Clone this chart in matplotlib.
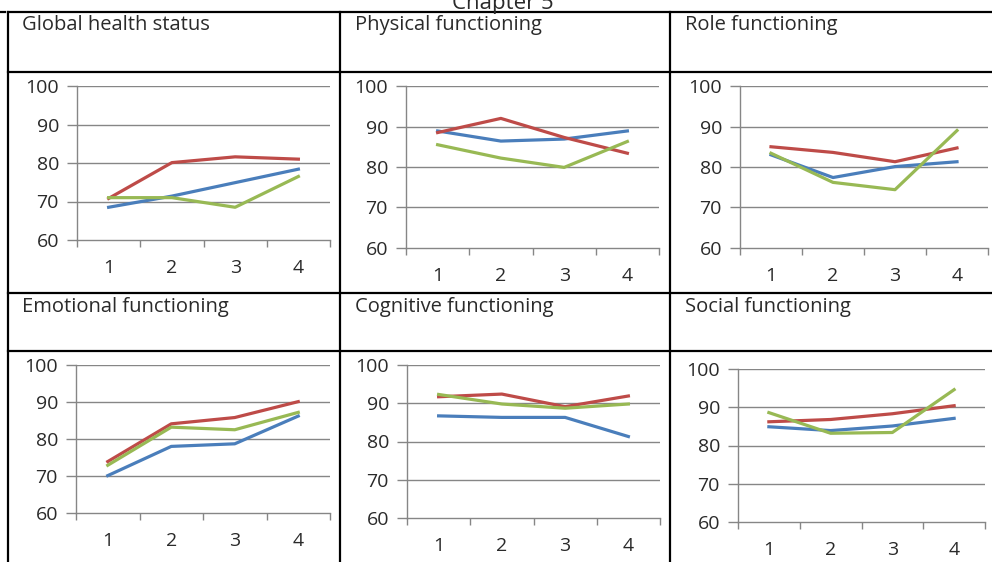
import matplotlib
matplotlib.use("Agg")
import matplotlib.pyplot as plt
from matplotlib.lines import Line2D

plt.rcParams['font.family'] = ['Open Sans', 'DejaVu Sans']

W, H = 992, 562

titles = ["Global health status", "Physical functioning", "Role functioning",
          "Emotional functioning", "Cognitive functioning", "Social functioning"]
x_labels = ["1", "2", "3", "4"]
y_ticks = [60, 70, 80, 90, 100]

blue_vals = [
    [68.5, 71.4, 74.9, 78.4],
    [88.9, 86.4, 86.9, 88.9],
    [83.0, 77.4, 80.1, 81.3],
    [70.1, 78.0, 78.7, 86.2],
    [86.7, 86.3, 86.3, 81.3],
    [84.9, 83.9, 85.1, 87.1],
]
red_vals = [
    [70.8, 80.1, 81.6, 81.0],
    [88.5, 92.0, 87.3, 83.4],
    [85.0, 83.6, 81.3, 84.7],
    [73.9, 84.1, 85.8, 90.1],
    [91.7, 92.4, 89.1, 91.9],
    [86.2, 86.8, 88.3, 90.4],
]
green_vals = [
    [71.0, 71.0, 68.5, 76.5],
    [85.5, 82.2, 79.9, 86.3],
    [83.4, 76.2, 74.4, 89.0],
    [72.9, 83.2, 82.5, 87.2],
    [92.3, 89.8, 88.7, 89.8],
    [88.6, 83.2, 83.4, 94.6],
]

colors = {"blue": "#4A7EBB", "red": "#BE4B48", "green": "#98B954"}

# axes rectangles in pixels: x0, x1, y_top(100), y_bottom(60)
rects = [
    (77, 330, 86, 240),
    (406, 659, 86, 248),
    (740, 988, 86, 248),
    (76, 330, 365, 513),
    (407, 660, 365, 518),
    (738, 985, 369, 522),
]
title_pos = [(22, 25), (355, 25), (685, 25), (22, 307), (355, 307), (685, 307)]

fig = plt.figure(figsize=(W / 100, H / 100), dpi=100)
fig.patch.set_facecolor("white")

grid_c = "#868686"
text_c = "#2a2a2a"

for i in range(6):
    x0, x1, yt, yb = rects[i]
    ax = fig.add_axes([x0 / W, 1 - yb / H, (x1 - x0) / W, (yb - yt) / H])
    xs = [1, 2, 3, 4]
    ax.plot(xs, blue_vals[i], color=colors["blue"], lw=2.3, solid_joinstyle="round")
    ax.plot(xs, red_vals[i], color=colors["red"], lw=2.3, solid_joinstyle="round")
    ax.plot(xs, green_vals[i], color=colors["green"], lw=2.3, solid_joinstyle="round")
    ax.set_xlim(0.5, 4.5)
    ax.set_ylim(60, 100)
    ax.set_yticks(y_ticks)
    ax.set_yticklabels([str(v) for v in y_ticks])
    ax.set_xticks([0.5, 1.5, 2.5, 3.5, 4.5])
    ax.set_xticklabels([])
    ax.set_xticks(xs, minor=True)
    ax.set_xticklabels(x_labels, minor=True)
    ax.tick_params(axis="x", which="major", length=5, width=1, color=grid_c, direction="out")
    ax.tick_params(axis="x", which="minor", length=0, pad=14, labelsize=14, labelcolor=text_c)
    ax.tick_params(axis="y", length=7, width=1, color=grid_c, pad=6, labelsize=14, labelcolor=text_c)
    for s in ["top", "right"]:
        ax.spines[s].set_visible(False)
    for s in ["left", "bottom"]:
        ax.spines[s].set_color(grid_c)
        ax.spines[s].set_linewidth(1)
    for v in [70, 80, 90, 100]:
        ax.axhline(v, color=grid_c, lw=1, zorder=0)
    ax.set_facecolor("none")
    tx, ty = title_pos[i]
    fig.text(tx / W, 1 - ty / H, titles[i], fontsize=14.5, color=text_c,
             ha="left", va="center")

# table lines
def hline(y, x0, x1, lw=1.6):
    fig.add_artist(Line2D([x0 / W, x1 / W], [1 - y / H, 1 - y / H], color="black", lw=lw))

def vline(x, y0, y1, lw=1.6):
    fig.add_artist(Line2D([x / W, x / W], [1 - y0 / H, 1 - y1 / H], color="black", lw=lw))

for y in [12, 72, 293, 351]:
    hline(y, 8, W)
hline(12, 0, 5)
for x in [8, 340, 670]:
    vline(x, 12, H)

fig.text(503 / W, 1 - 9 / H, "Chapter 5", fontsize=16, color=text_c,
         ha="center", va="baseline")

fig.savefig("out.png", dpi=100, facecolor="white")
